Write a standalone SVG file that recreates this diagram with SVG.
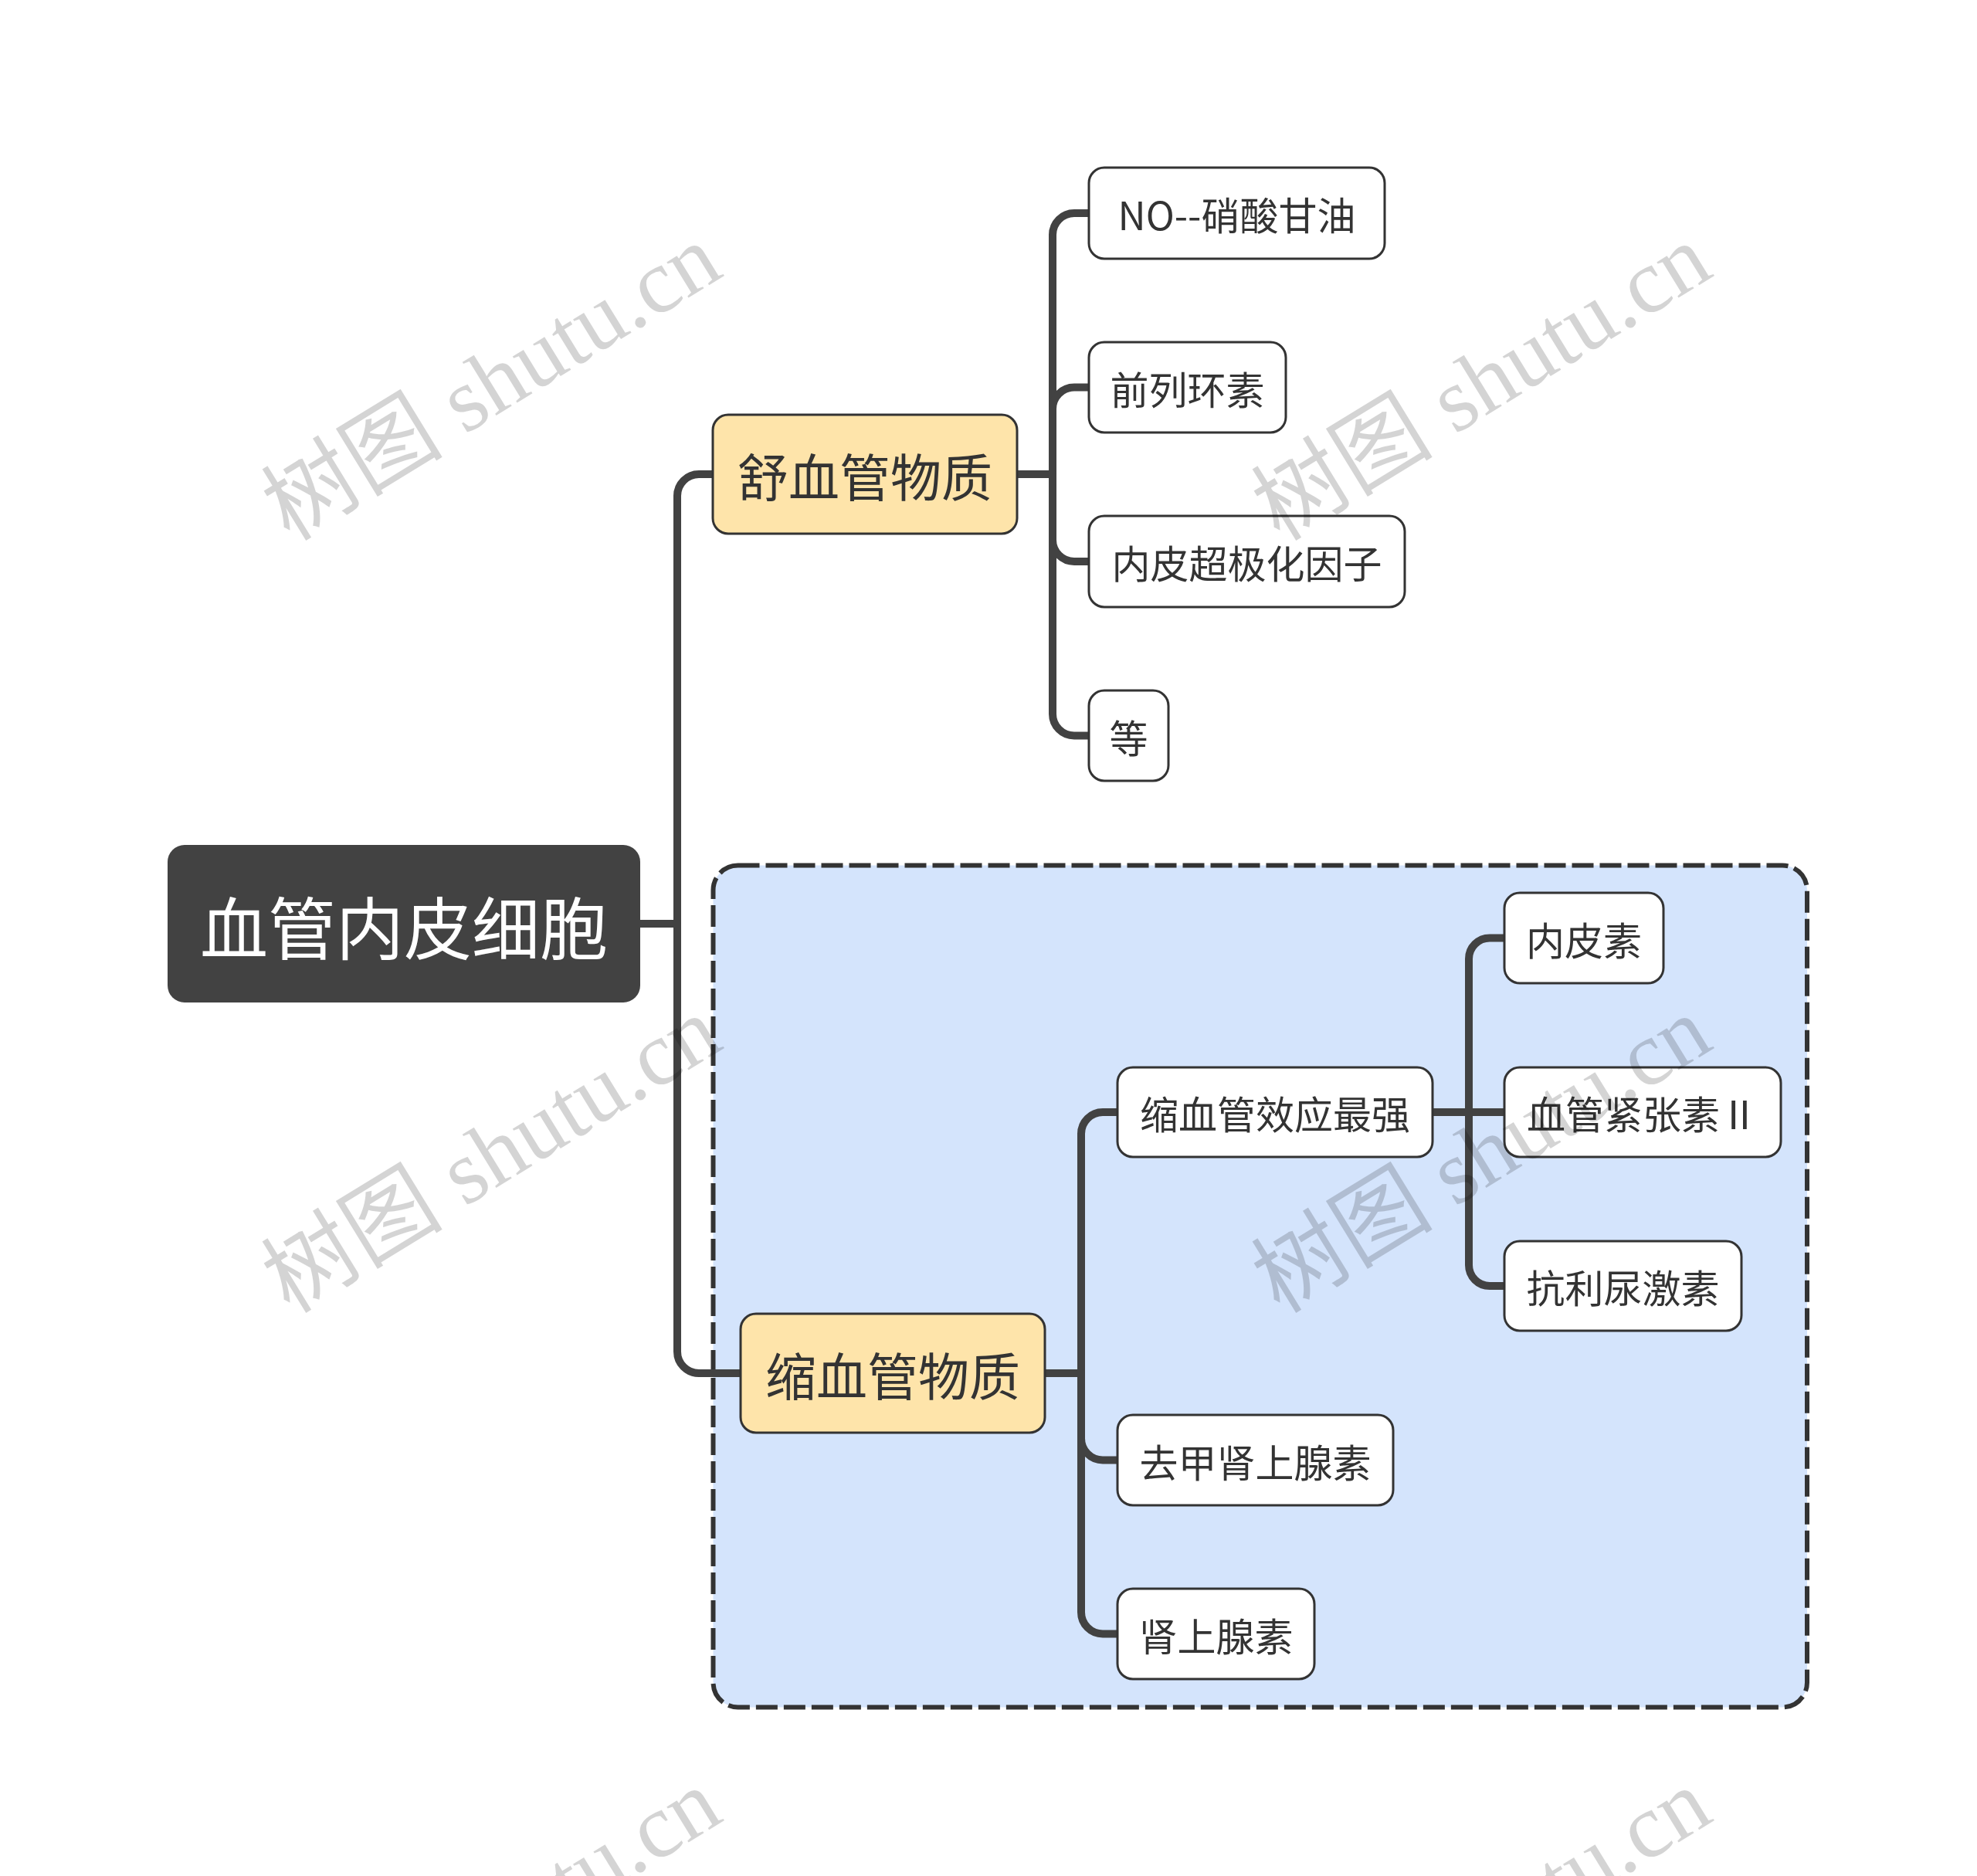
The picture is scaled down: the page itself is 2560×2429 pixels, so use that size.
<svg xmlns="http://www.w3.org/2000/svg" width="2560" height="2429" viewBox="0 0 2560 2429">
<style>
.conn{fill:none;stroke:#424242;stroke-width:10;stroke-linejoin:round}
.leaf rect{fill:#ffffff;stroke:#333333;stroke-width:3}
.sub rect{fill:#fee4aa;stroke:#333333;stroke-width:3}
.root rect{fill:#424242}
text{font-family:"Noto Sans CJK SC","Noto Sans",sans-serif;text-anchor:middle;dominant-baseline:central}
.leaf text{font-size:50px;fill:#333333}
.sub text{font-size:66px;fill:#333333}
.root text{font-size:88px;fill:#ffffff}
.wm{font-family:"Liberation Serif","Noto Sans CJK SC",serif;font-size:118px;fill:#000000;fill-opacity:0.17;text-anchor:start;dominant-baseline:alphabetic}
</style>
<rect width="2560" height="2429" fill="#ffffff"/>
<g id="summary-box">
<rect x="923.5" y="1120.5" width="1416.5" height="1090" rx="32" fill="#d4e4fc" stroke="#333333" stroke-width="6" stroke-dasharray="28 8"/>
</g>
<g id="connectors">
<path class="conn" d="M829,1196 H877 V642 A28,28 0 0 1 905,614 H923"/>
<path class="conn" d="M829,1196 H877 V1750 A28,28 0 0 0 905,1778 H959"/>
<path class="conn" d="M1317,614 H1363 V304 A28,28 0 0 1 1391,276 H1410"/>
<path class="conn" d="M1317,614 H1363 V529.5 A28,28 0 0 1 1391,501.5 H1410"/>
<path class="conn" d="M1317,614 H1363 V699 A28,28 0 0 0 1391,727 H1410"/>
<path class="conn" d="M1317,614 H1363 V924.5 A28,28 0 0 0 1391,952.5 H1410"/>
<path class="conn" d="M1353,1778 H1400 V1468 A28,28 0 0 1 1428,1440 H1447"/>
<path class="conn" d="M1353,1778 H1400 V1862.5 A28,28 0 0 0 1428,1890.5 H1447"/>
<path class="conn" d="M1353,1778 H1400 V2087.5 A28,28 0 0 0 1428,2115.5 H1447"/>
<path class="conn" d="M1855,1440 H1902 V1241.5 A27,27 0 0 1 1929,1214.5 H1948"/>
<path class="conn" d="M1855,1440 H1948"/>
<path class="conn" d="M1855,1440 H1902 V1638 A27,27 0 0 0 1929,1665 H1948"/>
</g>
<g id="root" class="root">
<rect x="217" y="1094" width="612" height="204" rx="22"/>
<text x="523" y="1196">血管内皮细胞</text>
</g>
<g id="n-shu" class="sub">
<rect x="923" y="537" width="394" height="154" rx="20"/>
<text x="1120" y="614">舒血管物质</text>
</g>
<g id="n-suo" class="sub">
<rect x="959" y="1701" width="394" height="154" rx="20"/>
<text x="1156" y="1778">缩血管物质</text>
</g>
<g id="n-no" class="leaf">
<rect x="1410" y="217" width="383" height="118" rx="20"/>
<text x="1601.5" y="276">NO--硝酸甘油</text>
</g>
<g id="n-qlhs" class="leaf">
<rect x="1410" y="443" width="255" height="117" rx="20"/>
<text x="1537.5" y="501.5">前列环素</text>
</g>
<g id="n-edhf" class="leaf">
<rect x="1410" y="668" width="409" height="118" rx="20"/>
<text x="1614.5" y="727">内皮超极化因子</text>
</g>
<g id="n-deng" class="leaf">
<rect x="1410" y="894" width="103" height="117" rx="20"/>
<text x="1461.5" y="952.5">等</text>
</g>
<g id="n-strong" class="leaf">
<rect x="1447" y="1382" width="408" height="116" rx="20"/>
<text x="1651" y="1440">缩血管效应最强</text>
</g>
<g id="n-ne" class="leaf">
<rect x="1447" y="1832" width="357" height="117" rx="20"/>
<text x="1625.5" y="1890.5">去甲肾上腺素</text>
</g>
<g id="n-epi" class="leaf">
<rect x="1447" y="2057" width="255" height="117" rx="20"/>
<text x="1574.5" y="2115.5">肾上腺素</text>
</g>
<g id="n-et" class="leaf">
<rect x="1948" y="1156" width="206" height="117" rx="20"/>
<text x="2051" y="1214.5">内皮素</text>
</g>
<g id="n-ang" class="leaf">
<rect x="1948" y="1382" width="358" height="116" rx="20"/>
<text x="2127" y="1440">血管紧张素Ⅱ</text>
</g>
<g id="n-adh" class="leaf">
<rect x="1948" y="1607" width="307" height="116" rx="20"/>
<text x="2101.5" y="1665">抗利尿激素</text>
</g>
<g id="watermarks">
<text class="wm" transform="translate(375,702) rotate(-31.5)">树图 shutu.cn</text>
<text class="wm" transform="translate(1657,702) rotate(-31.5)">树图 shutu.cn</text>
<text class="wm" transform="translate(375,1702) rotate(-31.5)">树图 shutu.cn</text>
<text class="wm" transform="translate(1657,1702) rotate(-31.5)">树图 shutu.cn</text>
<text class="wm" transform="translate(375,2702) rotate(-31.5)">树图 shutu.cn</text>
<text class="wm" transform="translate(1657,2702) rotate(-31.5)">树图 shutu.cn</text>
</g>
</svg>
